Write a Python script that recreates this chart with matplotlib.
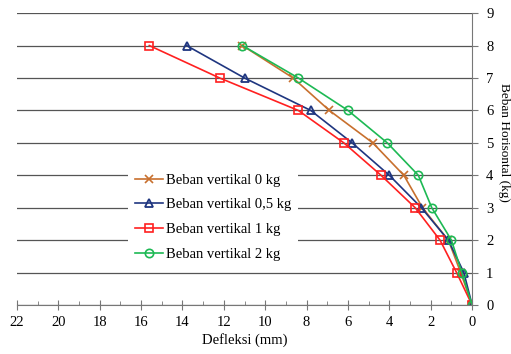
import matplotlib.pyplot as plt
from matplotlib.ticker import MultipleLocator

plt.rcParams['font.family'] = ['Liberation Serif', 'DejaVu Serif']

beban = [0, 1, 2, 3, 4, 5, 6, 7, 8]
defl_0 = [0, 0.55, 1.15, 2.4, 3.3, 4.8, 6.9, 8.65, 11.1]
defl_05 = [0, 0.4, 1.15, 2.45, 4.0, 5.8, 7.8, 11.0, 13.8]
defl_1 = [0, 0.75, 1.55, 2.75, 4.4, 6.2, 8.4, 12.2, 15.6]
defl_2 = [0, 0.5, 1.0, 1.95, 2.6, 4.1, 6.0, 8.4, 11.1]

labels = ['Beban vertikal 0 kg', 'Beban vertikal 0,5 kg',
          'Beban vertikal 1 kg', 'Beban vertikal 2 kg']

fig = plt.figure(figsize=(5.11, 3.54), dpi=100)
ax = fig.add_axes([0.033, 0.138, 0.891, 0.825])

ax.plot(defl_0, beban, color='#C8702E', marker='x', ms=6, mew=1.2, lw=1.2,
        label=labels[0])
ax.plot(defl_05, beban, color='#1F3680', marker='^', ms=6, mfc='none', mew=1.3,
        lw=1.2, label=labels[1])
ax.plot(defl_1, beban, color='#FF2020', marker='s', ms=6, mfc='none', mew=1.2,
        lw=1.2, label=labels[2])
ax.plot(defl_2, beban, color='#1DB954', marker='o', ms=6, mfc='none', mew=1.2,
        lw=1.2, label=labels[3])

ax.set_xlim(22, 0)
ax.set_ylim(0, 9)
ax.xaxis.set_major_locator(MultipleLocator(2))
ax.xaxis.set_minor_locator(MultipleLocator(1))
ax.yaxis.set_major_locator(MultipleLocator(1))
ax.yaxis.tick_right()
ax.grid(axis='y', color='#555555', lw=0.9)
ax.set_axisbelow(True)

for s in ['left', 'top']:
    ax.spines[s].set_visible(False)
for s in ['bottom', 'right']:
    ax.spines[s].set_color('#777777')

ax.tick_params(axis='x', which='major', direction='inout', length=7,
               color='#777777', labelsize=10.5, pad=4)
ax.tick_params(axis='x', which='minor', direction='in', length=3,
               color='#777777')
ax.tick_params(axis='y', direction='out', length=4, color='#777777',
               labelsize=10.5, pad=6)

ax.set_xlabel('Defleksi (mm)', fontsize=10.5, labelpad=3)
fig.text(504 / 511, 1 - 142 / 354, 'Beban Horisontal (kg)', fontsize=9.5,
         rotation=270, ha='center', va='center')

leg = ax.legend(loc='center left', bbox_to_anchor=(0.245, 0.301), frameon=True,
                facecolor='white', edgecolor='none', framealpha=1, fancybox=False,
                fontsize=10.5, handlelength=1.9, handletextpad=0.25,
                labelspacing=0.79, borderpad=0.45, borderaxespad=0)

fig.savefig('out.png', dpi=100)
